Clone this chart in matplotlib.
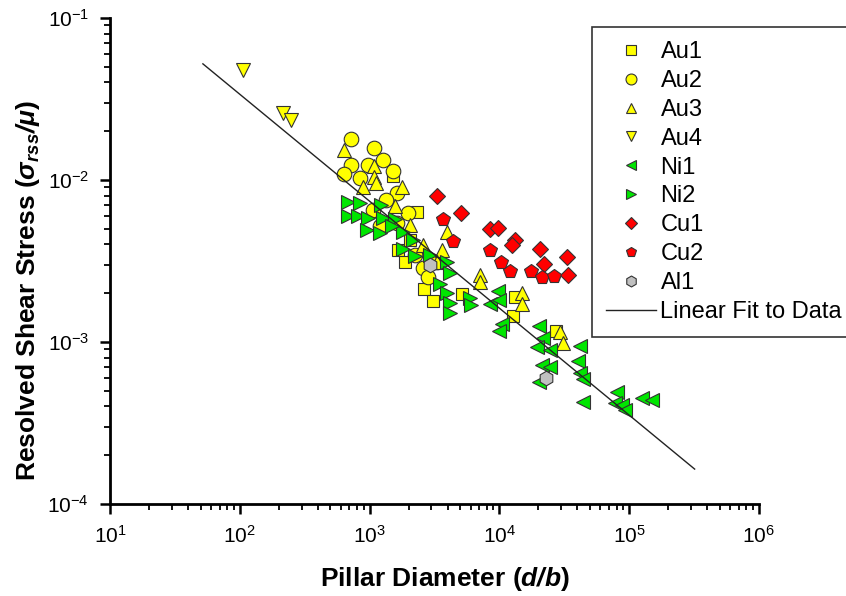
import matplotlib
matplotlib.use("Agg")
import numpy as np
import matplotlib.pyplot as plt
from matplotlib.ticker import LogLocator, NullFormatter

plt.rcParams["font.family"] = ["Liberation Sans", "DejaVu Sans"]
plt.rcParams["mathtext.fontset"] = "custom"
plt.rcParams["mathtext.rm"] = "Liberation Sans"
plt.rcParams["mathtext.it"] = "Liberation Sans:italic"
plt.rcParams["mathtext.bf"] = "Liberation Sans:bold"
plt.rcParams["mathtext.bfit"] = "Liberation Sans:bold:italic"

# Data (d/b, sigma_rss/mu)
au1_x = [1.51e3, 2.32e3, 1.65e3, 1.87e3, 2.62e3, 3.08e3, 5.15e3, 1.32e4, 1.27e4, 2.73e4, 2.05e3]
au1_y = [1.06e-2, 6.35e-3, 3.70e-3, 3.12e-3, 2.12e-3, 1.79e-3, 1.98e-3, 1.90e-3, 1.45e-3, 1.17e-3, 4.26e-3]

au2_x = [720, 1.08e3, 1.27e3, 720, 635, 970, 1.51e3, 1.63e3, 1.06e3, 1.20e3,
         1.98e3, 2.58e3, 2.82e3, 2.24e3, 1.63e3, 844, 1.34e3, 3.30e3]
au2_y = [1.79e-2, 1.58e-2, 1.33e-2, 1.24e-2, 1.09e-2, 1.24e-2, 1.14e-2, 8.3e-3, 6.53e-3, 5.2e-3,
         6.26e-3, 2.86e-3, 2.52e-3, 3.44e-3, 5.43e-3, 1.03e-2, 7.5e-3, 3.12e-3]

au3_x = [635, 1.08e3, 1.08e3, 1.12e3, 890, 1.78e3, 1.57e3, 3.95e3, 3.61e3, 2.58e3,
         7.1e3, 7.1e3, 1.49e4, 1.49e4, 2.93e4, 3.09e4, 2.05e3, 3.30e3]
au3_y = [1.53e-2, 1.22e-2, 1.04e-2, 9.6e-3, 9.05e-3, 9.05e-3, 6.9e-3, 4.77e-3, 3.70e-3, 3.97e-3,
         2.59e-3, 2.35e-3, 2.01e-3, 1.72e-3, 1.15e-3, 9.86e-4, 5.27e-3, 3.12e-3]

au4_x = [106, 215, 248]
au4_y = [4.77e-2, 2.59e-2, 2.34e-2]

ni1_x = [9.75e3, 8.47e3, 1.0e4, 1.05e4, 1.0e4, 2.02e4, 2.17e4, 1.95e4, 2.45e4, 4.18e4, 4.03e4,
         4.18e4, 4.41e4, 2.12e4, 2.45e4, 2.03e4, 4.41e4, 8.05e4, 7.78e4, 8.8e4, 9.3e4, 1.26e5, 1.5e5]
ni1_y = [2.06e-3, 1.72e-3, 1.82e-3, 1.29e-3, 1.17e-3, 1.26e-3, 1.06e-3, 9.3e-4, 8.9e-4, 9.45e-4, 7.6e-4,
         6.4e-4, 5.9e-4, 7.2e-4, 7.0e-4, 5.66e-4, 4.26e-4, 4.91e-4, 4.2e-4, 4.08e-4, 3.8e-4, 4.51e-4, 4.38e-4]

ni2_x = [682, 844, 682, 814, 970, 955, 1.22e3, 1.27e3, 1.57e3, 1.81e3, 2.16e3, 1.81e3,
         2.24e3, 2.92e3, 3.95e3, 4.16e3, 3.49e3, 3.95e3, 4.16e3, 4.16e3, 5.93e3, 6.1e3, 1.2e3, 1.49e3]
ni2_y = [7.31e-3, 7.2e-3, 6.0e-3, 6.0e-3, 5.83e-3, 4.91e-3, 7.0e-3, 5.83e-3, 5.74e-3, 4.77e-3, 4.26e-3, 3.75e-3,
         3.4e-3, 3.44e-3, 3.12e-3, 2.67e-3, 2.28e-3, 2.01e-3, 1.74e-3, 1.51e-3, 1.87e-3, 1.69e-3, 4.71e-3, 5.2e-3]

cu1_x = [3.3e3, 5.06e3, 8.47e3, 9.75e3, 1.32e4, 1.25e4, 2.06e4, 2.21e4, 3.32e4, 3.38e4]
cu1_y = [7.96e-3, 6.26e-3, 4.99e-3, 5.06e-3, 4.26e-3, 3.97e-3, 3.75e-3, 3.03e-3, 3.35e-3, 2.59e-3]

cu2_x = [3.68e3, 4.39e3, 8.47e3, 1.03e4, 1.21e4, 1.75e4, 2.13e4, 2.64e4]
cu2_y = [5.74e-3, 4.2e-3, 3.7e-3, 3.12e-3, 2.74e-3, 2.74e-3, 2.52e-3, 2.56e-3]

al1_x = [2.92e3, 2.29e4]
al1_y = [2.99e-3, 6.0e-4]

# linear fit in log-log space: y = A * x^m
fit_A = 0.706
fit_m = -0.66
fit_range = [52, 3.2e5]

series = [
    ("Au1", au1_x, au1_y, "s", "#ffff00", 9),
    ("Au2", au2_x, au2_y, "o", "#ffff00", 10.5),
    ("Au3", au3_x, au3_y, "^", "#ffff00", 10.5),
    ("Au4", au4_x, au4_y, "v", "#ffff00", 10.5),
    ("Ni1", ni1_x, ni1_y, "<", "#00e600", 10.5),
    ("Ni2", ni2_x, ni2_y, ">", "#00e600", 10.5),
    ("Cu1", cu1_x, cu1_y, "D", "#ff0000", 8.5),
    ("Cu2", cu2_x, cu2_y, "p", "#ff0000", 10.5),
    ("Al1", al1_x, al1_y, "h", "#c0c0c0", 10.5),
]

fig = plt.figure(figsize=(8.46, 5.96), dpi=100)
ax = fig.add_axes([0.130, 0.1544, 0.767, 0.8156])

for name, xs, ys, mk, col, ms in series:
    ax.plot(xs, ys, linestyle="none", marker=mk, markersize=ms,
            markerfacecolor=col, markeredgecolor="#333333",
            markeredgewidth=0.8, label=name)

xf = np.array(fit_range)
ax.plot(xf, fit_A * xf ** fit_m, color="#222222", linewidth=1.0,
        label="Linear Fit to Data", zorder=5)

ax.set_xscale("log")
ax.set_yscale("log")
ax.set_xlim(10, 1e6)
ax.set_ylim(1e-4, 1e-1)

for side in ["top", "right"]:
    ax.spines[side].set_visible(False)
for side in ["left", "bottom"]:
    ax.spines[side].set_linewidth(2)

ax.xaxis.set_major_locator(LogLocator(base=10, numticks=10))
ax.yaxis.set_major_locator(LogLocator(base=10, numticks=10))
ax.xaxis.set_minor_locator(LogLocator(base=10, subs=np.arange(2, 10), numticks=20))
ax.yaxis.set_minor_locator(LogLocator(base=10, subs=np.arange(2, 10), numticks=20))
ax.xaxis.set_minor_formatter(NullFormatter())
ax.yaxis.set_minor_formatter(NullFormatter())
ax.tick_params(which="major", direction="out", length=7, width=1.8, labelsize=15, pad=8)
ax.tick_params(which="minor", direction="out", length=4, width=1.3)

ax.set_xlabel(r"Pillar Diameter ($\mathbfit{d/b}$)", fontsize=19, fontweight="bold")
ax.set_ylabel(r"Resolved Shear Stress ($\mathbfit{\sigma_{rss}/\mu}$)", fontsize=19,
              fontweight="bold")
ax.xaxis.set_label_coords(0.516, -0.125)
ax.yaxis.set_label_coords(-0.105, 0.44)

leg = ax.legend(loc="upper left", bbox_to_anchor=(592 / 846, 1 - 27 / 596),
                bbox_transform=fig.transFigure, fontsize=17, frameon=True,
                fancybox=False, edgecolor="black", markerscale=0.75,
                handlelength=2.1, labelspacing=0.29, borderpad=0.6, handletextpad=0.2,
                borderaxespad=0)
leg.get_frame().set_linewidth(1.2)

fig.savefig("out.png", dpi=100)
